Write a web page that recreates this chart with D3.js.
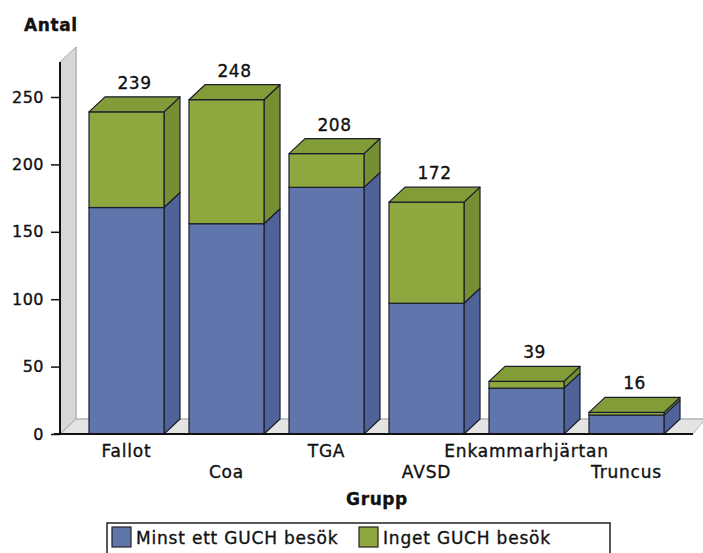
<!DOCTYPE html>
<html>
<head>
<meta charset="utf-8">
<script src="https://cdn.jsdelivr.net/npm/d3@7"></script>
<style>
    body { margin: 0; background: #fff; }
    .chart-area { width: 703px; height: 553px; }
    text { font-family: "DejaVu Sans", Verdana, sans-serif; fill: #111; stroke: #111; stroke-width: 0.35px; }
</style>
</head>
<body>
<div class="chart-area"></div>
<script>

// data
let groups = ["Fallot", "Coa", "TGA", "AVSD", "Enkammarhjärtan", "Truncus"];
let minstEtt = [168, 156, 183, 97, 34, 14];
let inget = [71, 92, 25, 75, 5, 2];
let totals = [239, 248, 208, 172, 39, 16];
let seriesNames = ["Minst ett GUCH besök", "Inget GUCH besök"];
let yTicks = [0, 50, 100, 150, 200, 250];


class StackedBar3D {

    constructor(_parentElement) {
        this.parentElement = _parentElement;
        this.displayData = [];

        this.initVis();
    };

    initVis() {
        let vis = this;

        vis.width = 703;
        vis.height = 553;
        vis.depthX = 16;
        vis.depthY = 15;

        vis.colors = {
            blue: {front: "#6175ad", side: "#50629a", top: "#5a6da6"},
            green: {front: "#8fa73f", side: "#778f33", top: "#829c38"}
        };

        vis.svg = d3.select("." + vis.parentElement).append("svg")
            .attr("width", vis.width)
            .attr("height", vis.height);

        // scales
        vis.x = d3.scaleBand()
            .domain(groups)
            .range([64, 689])
            .paddingInner(0.25)
            .paddingOuter(0.25);

        vis.y = d3.scaleLinear()
            .domain([0, 250])
            .range([434, 97]);

        vis.wrangleData();
    };

    wrangleData() {
        let vis = this;

        groups.forEach(function (g, i) {
            vis.displayData.push({
                group: g,
                segments: [
                    {y0: 0, y1: minstEtt[i], col: vis.colors.blue},
                    {y0: minstEtt[i], y1: minstEtt[i] + inget[i], col: vis.colors.green}
                ],
                total: totals[i]
            });
        });

        vis.updateVis();
    };

    updateVis() {
        let vis = this;
        let dx = vis.depthX, dy = vis.depthY;
        let x0 = vis.x.range()[0] - 4;
        let x1 = vis.x.range()[1] + 4;
        let yBase = vis.y(0);
        let yWallTop = vis.y(276);

        // floor
        vis.svg.append("path")
            .attr("d", `M${x0},${yBase} L${x1},${yBase} L${x1 + dx - 4},${yBase - dy} L${x0 + dx},${yBase - dy} Z`)
            .attr("fill", "#e4e4e4")
            .attr("stroke", "#b5b5b5");

        // back wall edge
        vis.svg.append("path")
            .attr("d", `M${x0 + dx},${yWallTop - dy} L${x0 + dx},${yBase - dy} L${x1 + dx - 4},${yBase - dy}`)
            .attr("fill", "none")
            .attr("stroke", "#b5b5b5");

        // side wall
        vis.svg.append("path")
            .attr("d", `M${x0},${yBase} L${x0},${yWallTop} L${x0 + dx},${yWallTop - dy} L${x0 + dx},${yBase - dy} Z`)
            .attr("fill", "#d7d7d7")
            .attr("stroke", "#a9a9a9");

        // bars
        let bw = vis.x.bandwidth();
        let barGroup = vis.svg.append("g").attr("class", "bars");

        vis.displayData.forEach(function (d) {
            let bx = vis.x(d.group);
            d.segments.forEach(function (s, j) {
                let yt = vis.y(s.y1), yb = vis.y(s.y0);
                // side face
                barGroup.append("path")
                    .attr("d", `M${bx + bw},${yb} L${bx + bw + dx},${yb - dy} L${bx + bw + dx},${yt - dy} L${bx + bw},${yt} Z`)
                    .attr("fill", s.col.side)
                    .attr("stroke", "#1b1d2b")
                    .attr("stroke-width", 1.2)
                    .attr("stroke-linejoin", "round");
                // front face
                barGroup.append("rect")
                    .attr("x", bx)
                    .attr("y", yt)
                    .attr("width", bw)
                    .attr("height", yb - yt)
                    .attr("fill", s.col.front)
                    .attr("stroke", "#1b1d2b")
                    .attr("stroke-width", 1.2);
                // top face only for last segment
                if (j === d.segments.length - 1) {
                    barGroup.append("path")
                        .attr("d", `M${bx},${yt} L${bx + dx},${yt - dy} L${bx + bw + dx},${yt - dy} L${bx + bw},${yt} Z`)
                        .attr("fill", s.col.top)
                        .attr("stroke", "#1b1d2b")
                        .attr("stroke-width", 1.2)
                        .attr("stroke-linejoin", "round");
                }
            });

            // total label
            barGroup.append("text")
                .attr("x", bx + bw / 2 + dx / 2)
                .attr("y", vis.y(d.total) - dy - 8)
                .attr("text-anchor", "middle")
                .style("font-size", "17px")
                .style("letter-spacing", "0.5px")
                .text(d.total);
        });

        // y axis
        vis.yAxis = vis.svg.append("g")
            .attr("class", "axis axis--y")
            .attr("transform", "translate(" + x0 + ",0)")
            .call(d3.axisLeft(vis.y).tickValues(yTicks).tickSize(9).tickPadding(7));
        vis.yAxis.select(".domain").remove();
        vis.yAxis.selectAll(".tick line").attr("stroke", "#111").attr("stroke-width", 1.5);
        vis.yAxis.selectAll(".tick text")
            .style("font-size", "16px")
            .style("letter-spacing", "0.5px")
            .attr("fill", "#111");

        vis.svg.append("line")
            .attr("x1", x0).attr("x2", x0)
            .attr("y1", yWallTop).attr("y2", yBase)
            .attr("stroke", "#111").attr("stroke-width", 2);

        // x axis line
        vis.svg.append("line")
            .attr("x1", x0 - 6).attr("x2", x1)
            .attr("y1", yBase).attr("y2", yBase)
            .attr("stroke", "#111").attr("stroke-width", 2);

        // x labels, staggered
        vis.svg.append("g").selectAll("text")
            .data(groups)
            .join("text")
            .attr("x", d => vis.x(d) + bw / 2)
            .attr("y", (d, i) => i % 2 === 0 ? 457 : 478)
            .attr("text-anchor", "middle")
            .style("font-size", "17px")
            .style("letter-spacing", "0.8px")
            .text(d => d);

        // axis titles
        vis.svg.append("text")
            .attr("x", 24).attr("y", 31)
            .style("font-size", "17px")
            .style("font-weight", "bold")
            .style("letter-spacing", "0.6px")
            .text("Antal");

        vis.svg.append("text")
            .attr("x", 377).attr("y", 505)
            .attr("text-anchor", "middle")
            .style("font-size", "17px")
            .style("font-weight", "bold")
            .style("letter-spacing", "0.6px")
            .text("Grupp");

        // legend
        let legend = vis.svg.append("g").attr("class", "legend");
        legend.append("rect")
            .attr("x", 107).attr("y", 523)
            .attr("width", 503).attr("height", 40)
            .attr("fill", "#fff")
            .attr("stroke", "#222")
            .attr("stroke-width", 1.5);

        let legendItems = [
            {name: seriesNames[0], col: vis.colors.blue.front, x: 112},
            {name: seriesNames[1], col: vis.colors.green.front, x: 359}
        ];
        legendItems.forEach(function (it) {
            legend.append("rect")
                .attr("x", it.x).attr("y", 527)
                .attr("width", 19).attr("height", 20)
                .attr("fill", it.col)
                .attr("stroke", "#222")
                .attr("stroke-width", 1.2);
            legend.append("text")
                .attr("x", it.x + 24).attr("y", 544)
                .style("font-size", "17px")
                .style("letter-spacing", "0.8px")
                .text(it.name);
        });
    }
}

let chart = new StackedBar3D("chart-area");

</script>
</body>
</html>
